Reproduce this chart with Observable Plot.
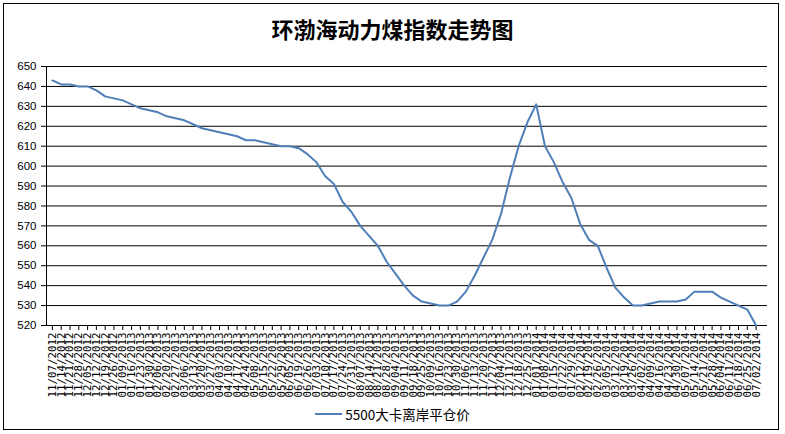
<!DOCTYPE html>
<html><head><meta charset="utf-8">
<script src="https://cdn.jsdelivr.net/npm/d3@7"></script>
<script src="https://cdn.jsdelivr.net/npm/@observablehq/plot@0.6"></script>
<style>
body{margin:0;background:#fff;}
#wrap{position:relative;width:785px;height:434px;overflow:hidden;background:#fff;}
#frame{position:absolute;left:3px;top:3px;width:776px;height:427px;border:1px solid #000;box-sizing:border-box;pointer-events:none;}
#title{height:50px;line-height:56px;text-align:center;font-family:"Noto Sans CJK SC";font-weight:bold;font-size:22px;color:#000;}
#chart svg{display:block;}
#legend{position:absolute;left:0;top:403px;width:785px;height:22px;display:flex;justify-content:center;align-items:center;font-family:"Noto Sans CJK SC";font-size:13.5px;color:#000;}
#legend .sw{display:inline-block;width:27px;height:2px;background:#4f7fb8;margin-right:3px;}
</style></head>
<body>
<div id="wrap">
  <div id="title">环渤海动力煤指数走势图</div>
  <div id="chart"></div>
  <div id="legend"><span class="sw"></span><span id="legendText"></span></div>
  <div id="frame"></div>
</div>
<script>
const seriesName = "5500大卡离岸平仓价";
const dates = [
 "11/07/2012","11/14/2012","11/21/2012","11/28/2012","12/05/2012","12/12/2012","12/19/2012","12/26/2012",
 "01/09/2013","01/16/2013","01/23/2013","01/30/2013","02/06/2013","02/20/2013","02/27/2013","03/06/2013",
 "03/13/2013","03/20/2013","03/27/2013","04/03/2013","04/10/2013","04/17/2013","04/24/2013","05/08/2013",
 "05/15/2013","05/22/2013","05/29/2013","06/05/2013","06/19/2013","06/26/2013","07/03/2013","07/10/2013",
 "07/17/2013","07/24/2013","07/31/2013","08/07/2013","08/14/2013","08/21/2013","08/28/2013","09/04/2013",
 "09/11/2013","09/18/2013","09/25/2013","10/09/2013","10/16/2013","10/23/2013","10/30/2013","11/06/2013",
 "11/13/2013","11/20/2013","11/27/2013","12/04/2013","12/11/2013","12/18/2013","12/25/2013",
 "01/01/2014","01/08/2014","01/15/2014","01/22/2014","01/29/2014","02/12/2014","02/19/2014","02/26/2014",
 "03/05/2014","03/12/2014","03/19/2014","03/26/2014","04/02/2014","04/09/2014","04/16/2014","04/23/2014",
 "04/30/2014","05/07/2014","05/14/2014","05/21/2014","05/28/2014","06/04/2014","06/11/2014","06/18/2014",
 "06/25/2014","07/02/2014"
];
const prices = [
 643,641,641,640,640,638,635,634,
 633,631,629,628,627,625,624,623,
 621,619,618,617,616,615,613,613,
 612,611,610,610,609,606,602,595,
 591,582,577,570,565,560,552,546,
 540,535,532,531,530,530,532,537,
 545,554,563,576,594,610,622,
 631,610,602,592,584,571,563,560,
 549,539,534,530,530,531,532,532,
 532,533,537,537,537,534,532,530,
 528,520
];
const yTicks = [520,530,540,550,560,570,580,590,600,610,620,630,640,650];

document.getElementById("legendText").textContent = seriesName;
const data = dates.map((d,i)=>({date:d, price:prices[i]}));

const chart = Plot.plot({
  width:785, height:350,
  marginLeft:46, marginRight:18, marginTop:16, marginBottom:75,
  x:{type:"point", domain:dates, range:[47.5,760]},
  y:{domain:[520,650]},
  marks:[
    Plot.gridY(yTicks,{stroke:"#000", strokeOpacity:1, strokeWidth:1}),
    Plot.axisY(yTicks,{tickSize:5, tickPadding:5, fontSize:11.5, fontFamily:"Liberation Sans", fill:"#000", label:null, tickFormat:d=>String(d)}),
    Plot.axisX({tickRotate:-90, tickSize:5, tickPadding:2, fontSize:10.8, fontFamily:"DejaVu Sans Mono", fill:"#000", label:null}),
    Plot.frame({anchor:"left", stroke:"#000"}),
    Plot.lineY(data,{x:"date", y:"price", stroke:"#4f7fb8", strokeWidth:2})
  ]
});
document.getElementById("chart").appendChild(chart);
</script>
</body></html>
